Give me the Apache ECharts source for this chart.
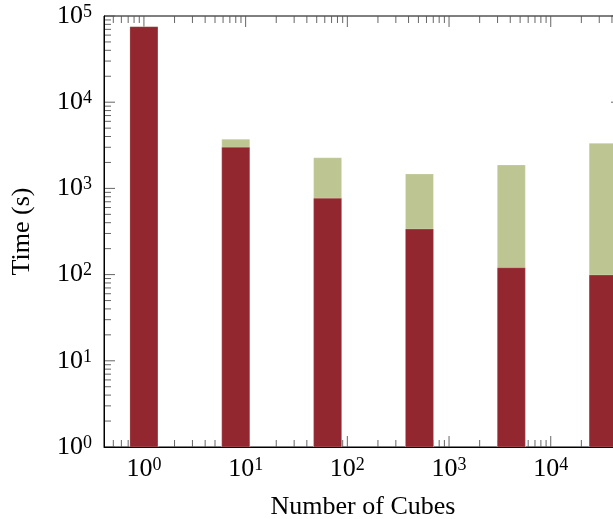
<!DOCTYPE html>
<html>
<head>
<meta charset="utf-8">
<script src="https://cdn.jsdelivr.net/npm/echarts@6/dist/echarts.min.js"></script>
<style>
  html, body { margin: 0; padding: 0; background: #fff; }
  #chart { width: 613px; height: 519px; }
</style>
</head>
<body>
<div id="chart"></div>
<script>
// number of cubes (x) and the two timings (y, seconds)
const cubes     = [1, 8, 64, 512, 4096, 32768];
const totalTime = [75200, 3715, 2270, 1469, 1868, 3340];   // light green, drawn behind
const partTime  = [75200, 3000, 768, 338, 120, 99];        // dark red, drawn in front

// axis ranges and ticks
const xMin = 0.405, xMax = 50200;
const yMin = 1, yMax = 100000;
const xMajor = [1, 10, 100, 1000, 10000];
const xMinor = [0.5, 0.6, 0.7, 0.8, 0.9,
  2, 3, 4, 5, 6, 7, 8, 9,
  20, 30, 40, 50, 60, 70, 80, 90,
  200, 300, 400, 500, 600, 700, 800, 900,
  2000, 3000, 4000, 5000, 6000, 7000, 8000, 9000,
  20000, 30000, 40000, 50000];
const yMajor = [1, 10, 100, 1000, 10000, 100000];
const yMinor = [2, 3, 4, 5, 6, 7, 8, 9,
  20, 30, 40, 50, 60, 70, 80, 90,
  200, 300, 400, 500, 600, 700, 800, 900,
  2000, 3000, 4000, 5000, 6000, 7000, 8000, 9000,
  20000, 30000, 40000, 50000, 60000, 70000, 80000, 90000];

const FONT = 'Liberation Serif';
const RED = '#93272f', GREEN = '#bdc693';
const BAR_W = 28, MAJOR_LEN = 11, MINOR_LEN = 7;

const chart = echarts.init(document.getElementById('chart'));

function powLabel(v) {
  const e = Math.log10(v);
  const r = Math.round(e);
  if (Math.abs(e - r) > 1e-6) return '';
  return '{b|10}{s|' + r + '}';
}
const labelRich = {
  b: { fontFamily: FONT, fontSize: 26, color: '#000' },
  s: { fontFamily: FONT, fontSize: 18, color: '#000', verticalAlign: 'top' },
};

function barSeries(name, values, color) {
  return {
    name, type: 'custom', z: 2,
    data: cubes.map((c, i) => [c, values[i]]),
    renderItem: (params, api) => {
      const top = api.coord([api.value(0), api.value(1)]);
      const base = api.coord([api.value(0), yMin]);
      return {
        type: 'rect',
        shape: { x: top[0] - BAR_W / 2, y: top[1], width: BAR_W, height: base[1] - top[1] },
        style: { fill: color, stroke: 'rgba(255,255,255,0.35)', lineWidth: 0.6 },
      };
    },
  };
}

const tickStyle = { stroke: '#555', lineWidth: 0.9 };

chart.setOption({
  animation: false,
  grid: {
    left: 104, top: 16, width: 518, height: 431,
    outerBoundsMode: 'none', containLabel: false,
    show: true, borderColor: '#000', borderWidth: 1,
  },
  xAxis: {
    type: 'log', logBase: 10, min: xMin, max: xMax, z: 3,
    name: 'Number of Cubes', nameLocation: 'middle', nameGap: 47,
    nameTextStyle: { fontFamily: FONT, fontSize: 26, color: '#000' },
    axisLine: { show: true, lineStyle: { color: '#000', width: 1 } },
    axisTick: { show: false },
    splitLine: { show: false },
    axisLabel: { formatter: powLabel, rich: labelRich, margin: 9, showMinLabel: false, showMaxLabel: false },
  },
  yAxis: {
    type: 'log', logBase: 10, min: yMin, max: yMax, z: 3,
    name: 'Time (s)', nameLocation: 'middle', nameGap: 69,
    nameTextStyle: { fontFamily: FONT, fontSize: 26, color: '#000' },
    axisLine: { show: true, lineStyle: { color: '#000', width: 1 } },
    axisTick: { show: false },
    splitLine: { show: false },
    axisLabel: { formatter: powLabel, rich: labelRich, margin: 12 },
  },
  series: [
    {
      type: 'custom', z: 1, silent: true,
      data: xMajor.map(v => [v, MAJOR_LEN]).concat(xMinor.map(v => [v, MINOR_LEN])),
      renderItem: (params, api) => {
        const v = api.value(0), len = api.value(1);
        const b = api.coord([v, yMin]), t = api.coord([v, yMax]);
        return { type: 'group', children: [
          { type: 'line', shape: { x1: b[0], y1: b[1], x2: b[0], y2: b[1] - len }, style: tickStyle },
          { type: 'line', shape: { x1: t[0], y1: t[1], x2: t[0], y2: t[1] + len }, style: tickStyle },
        ] };
      },
    },
    {
      type: 'custom', z: 1, silent: true,
      data: yMajor.map(v => [MAJOR_LEN, v]).concat(yMinor.map(v => [MINOR_LEN, v])),
      renderItem: (params, api) => {
        const v = api.value(1), len = api.value(0);
        const l = api.coord([xMin, v]), r = api.coord([xMax, v]);
        return { type: 'group', children: [
          { type: 'line', shape: { x1: l[0], y1: l[1], x2: l[0] + len, y2: l[1] }, style: tickStyle },
          { type: 'line', shape: { x1: r[0], y1: r[1], x2: r[0] - len, y2: r[1] }, style: tickStyle },
        ] };
      },
    },
    barSeries('Total', totalTime, GREEN),
    barSeries('Part', partTime, RED),
  ],
});
</script>
</body>
</html>
